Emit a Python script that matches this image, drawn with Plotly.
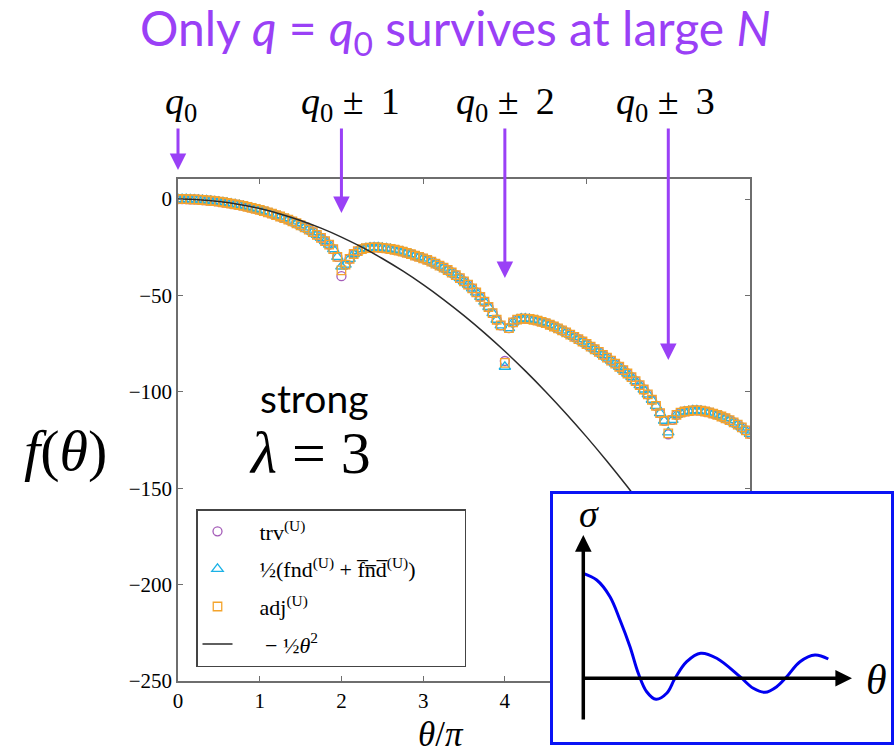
import plotly.graph_objects as go

# ---------------- data ----------------
theta_over_pi = [round(0.05 * i, 2) for i in range(141)]

trv = [0, -0.02, -0.06, -0.13, -0.22, -0.35, -0.50, -0.68, -0.88, -1.12,
       -1.38, -1.67, -2.00, -2.35, -2.73, -3.14, -3.58, -4.05, -4.55, -5.08,
       -5.65, -6.25, -6.90, -7.60, -8.30, -9.05, -9.85, -10.70, -11.60, -12.55,
       -13.60, -14.70, -15.90, -17.20, -18.60, -20.10, -21.80, -23.60, -26.00, -30.00,
       -40.00, -34.00, -31.00, -28.50, -27.00, -26.00, -25.50, -25.20, -25.10, -25.10,
       -25.30, -25.60, -25.90, -26.30, -26.80, -27.30, -27.90, -28.60, -29.30, -30.00,
       -30.80, -31.60, -32.50, -33.50, -34.50, -35.60, -36.80, -38.10, -39.50, -41.00,
       -42.70, -44.40, -46.30, -48.40, -50.70, -53.20, -56.00, -59.20, -62.60, -65.50,
       -84.00, -67.00, -64.00, -62.50, -62.00, -62.00, -62.20, -62.60, -63.10, -63.70,
       -64.40, -65.20, -66.10, -67.10, -68.10, -69.20, -70.30, -71.50, -72.70, -73.90,
       -75.20, -76.50, -77.90, -79.30, -80.80, -82.30, -83.80, -85.40, -87.00, -88.70,
       -90.50, -92.40, -94.40, -96.50, -98.80, -101.30, -104.10, -107.30, -111.00, -115.00,
       -122.00, -114.50, -112.00, -110.80, -110.20, -110.00, -109.60, -109.60, -109.80, -110.20,
       -110.70, -111.30, -112.00, -112.80, -113.70, -114.70, -115.80, -117.00, -118.40, -120.00,
       -121.80]

# values of the other two estimators where they differ from trv
fnd_diff = {2.0: -35.0, 4.0: -87.0, 6.0: -121.0}
adj_diff = {2.0: -37.0, 4.0: -85.0, 6.0: -121.5}
fnd = [fnd_diff.get(t, v) for t, v in zip(theta_over_pi, trv)]
adj = [adj_diff.get(t, v) for t, v in zip(theta_over_pi, trv)]

# reference curve -theta^2/2
ref_x = [0, 0.25, 0.5, 0.75, 1, 1.25, 1.5, 1.75, 2, 2.25, 2.5, 2.75, 3, 3.25, 3.5,
         3.75, 4, 4.25, 4.5, 4.75, 5, 5.25, 5.5, 5.75, 6, 6.25, 6.5, 6.75, 7]
ref_y = [0, -0.308, -1.234, -2.776, -4.935, -7.711, -11.103, -15.113, -19.739, -24.982,
         -30.842, -37.319, -44.413, -52.124, -60.451, -69.396, -78.957, -89.135, -99.930,
         -111.342, -123.370, -136.015, -149.278, -163.157, -177.653, -192.766, -208.495,
         -224.842, -241.805]

# inset sketch sigma(theta)
inset_t = [0, 0.447, 0.89, 1.223, 1.557, 1.833, 2.113, 2.423, 2.78, 3.057, 3.447, 3.913,
           4.447, 5.223, 5.667, 6.057, 6.447, 6.78, 7.223, 7.723, 8.167]
inset_s = [3.5, 3.277, 2.72, 1.943, 1.053, 0.167, -0.447, -0.7, -0.5, 0, 0.553, 0.833,
           0.667, 0.053, -0.333, -0.467, -0.28, 0.053, 0.553, 0.777, 0.643]

x_ticks = [0, 1, 2, 3, 4, 5, 6, 7]
y_ticks = [0, -50, -100, -150, -200, -250]
y_ticktext = ["0", "\u221250", "\u2212100", "\u2212150", "\u2212200", "\u2212250"]

# ---------------- styling ----------------
W, H = 894, 755
PURPLE = "#9a40f6"
C_TRV = "#a45cb8"
C_FND = "#1cb2e6"
C_ADJ = "#f4a42c"
AX = "#6e6e6e"
SERIF = "Liberation Serif"
SANS = "Lato"
NB = "\u00a0"
TH = "\u2009"


def px(xp):
    return xp / W


def py(yp):
    return 1 - yp / H


fig = go.Figure()
fig.add_trace(go.Scatter(x=theta_over_pi, y=trv, mode="markers", name=NB * 4 + "trv<sup>(U)</sup>",
                         legendgroup="a",
                         marker=dict(symbol="circle-open", size=9, color=C_TRV, line=dict(width=1.3))))
fig.add_trace(go.Scatter(x=theta_over_pi, y=fnd, mode="markers",
                         name=NB * 4 + "\u00bd(fnd<sup>(U)</sup>" + NB + "+" + NB +
                         "f\u0305n\u0305d\u0305<sup>(U)</sup>)" + NB * 8,
                         legendgroup="b",
                         marker=dict(symbol="triangle-up-open", size=10, color=C_FND, line=dict(width=1.3))))
fig.add_trace(go.Scatter(x=theta_over_pi, y=adj, mode="markers", name=NB * 4 + "adj<sup>(U)</sup>",
                         legendgroup="c",
                         marker=dict(symbol="square-open", size=8.5, color=C_ADJ, line=dict(width=1.3))))
fig.add_trace(go.Scatter(x=ref_x, y=ref_y, mode="lines",
                         name=NB * 5 + "\u2212" + NB + "\u00bd<i>\u03b8</i><sup>2</sup>",
                         legendgroup="d",
                         line=dict(color="#2a2a2a", width=1.5, shape="spline")))
fig.add_trace(go.Scatter(x=inset_t, y=inset_s, mode="lines", xaxis="x2", yaxis="y2",
                         showlegend=False, line=dict(color="#0000f0", width=3, shape="spline")))

fig.update_layout(
    width=W, height=H,
    margin=dict(l=0, r=0, t=0, b=0, pad=0, autoexpand=False),
    paper_bgcolor="white", plot_bgcolor="white",
    showlegend=True,
    legend=dict(x=px(196), y=py(509), xanchor="left", yanchor="top",
                bordercolor="#444", borderwidth=1.5, bgcolor="white",
                font=dict(family=SERIF, size=22, color="black"),
                traceorder="grouped", tracegroupgap=6),
    xaxis=dict(domain=[px(178), px(750)], range=[0, 7], tickvals=x_ticks,
               ticks="inside", ticklen=5, tickcolor=AX, showline=True, linecolor=AX,
               linewidth=1.5, mirror="ticks", showgrid=False, zeroline=False,
               automargin=False,
               tickfont=dict(family=SERIF, size=21, color="black")),
    yaxis=dict(domain=[py(681), py(179)], range=[-250, 10.4], tickvals=y_ticks,
               ticktext=y_ticktext, automargin=False,
               ticks="inside", ticklen=5, tickcolor=AX, showline=True, linecolor=AX,
               linewidth=1.5, mirror="ticks", showgrid=False, zeroline=False,
               tickfont=dict(family=SERIF, size=21, color="black")),
    xaxis2=dict(domain=[px(550), 1.0], range=[(550 - 583.3) / 30, (894 - 583.3) / 30],
                visible=False, anchor="y2"),
    yaxis2=dict(domain=[py(745), py(491)], range=[(678.3 - 745) / 30, (678.3 - 491) / 30],
                visible=False, anchor="x2"),
)

# inset box (drawn in the inset subplot's own layer, above the main plot)
fig.add_shape(type="rect", xref="x2", yref="y2", layer="below",
              x0=(551.5 - 583.3) / 30, x1=(892.5 - 583.3) / 30,
              y0=(678.3 - 743.5) / 30, y1=(678.3 - 492.5) / 30,
              fillcolor="white", line=dict(color="#0a14f5", width=3))

ann = []


def text_ann(xp, yp, text, size, family=SERIF, color="black"):
    ann.append(dict(x=px(xp), y=py(yp), xref="paper", yref="paper", showarrow=False,
                    xanchor="center", yanchor="middle", text=text,
                    font=dict(family=family, size=size, color=color)))


# title
text_ann(455, 31, "Only <i>q</i> = <i>q</i><sub>0</sub> survives at large <i>N</i>", 48,
         family=SANS, color=PURPLE)
# q labels and arrows
PM = NB + "\u00b1" + NB + TH
q_labels = ["<i>q</i><sub>0</sub>", "<i>q</i><sub>0</sub>" + PM + "1",
            "<i>q</i><sub>0</sub>" + PM + "2", "<i>q</i><sub>0</sub>" + PM + "3"]
q_label_x = [181, 350, 505, 665]
for lab, lx in zip(q_labels, q_label_x):
    text_ann(lx, 104, lab, 38)

arrow_x = [0, 2, 4, 6]
arrow_y = [170, 213, 278, 360]
for ax_, ayp in zip(arrow_x, arrow_y):
    ann.append(dict(x=ax_, y=py(ayp), xref="x", yref="paper", text="", showarrow=True,
                    ax=0, ay=-(ayp - 127), arrowhead=2, arrowsize=1.1, arrowwidth=3,
                    arrowcolor=PURPLE, standoff=0))
# in-plot text
text_ann(314, 398, "strong", 39, family=SANS)
text_ann(310, 453, "<i>\u03bb</i> = 3", 60)
text_ann(65, 450, "<i>f</i>(<i>\u03b8</i>)", 58)
text_ann(441, 734, "<i>\u03b8</i>/<i>\u03c0</i>", 35)
# inset axes arrows
ann.append(dict(x=0, y=(678.3 - 535) / 30, xref="x2", yref="y2", axref="x2", ayref="y2",
                ax=0, ay=(678.3 - 721) / 30, text="", showarrow=True, arrowhead=2,
                arrowsize=0.95, arrowwidth=3.5, arrowcolor="black", standoff=0))
ann.append(dict(x=(852 - 583.3) / 30, y=0, xref="x2", yref="y2", axref="x2", ayref="y2",
                ax=-0.06, ay=0, text="", showarrow=True, arrowhead=2,
                arrowsize=0.95, arrowwidth=3.5, arrowcolor="black", standoff=0))
text_ann(589, 514, "<i>\u03c3</i>", 38)
text_ann(876, 680, "<i>\u03b8</i>", 42)
fig.update_layout(annotations=ann)

fig.write_html("out.html")
